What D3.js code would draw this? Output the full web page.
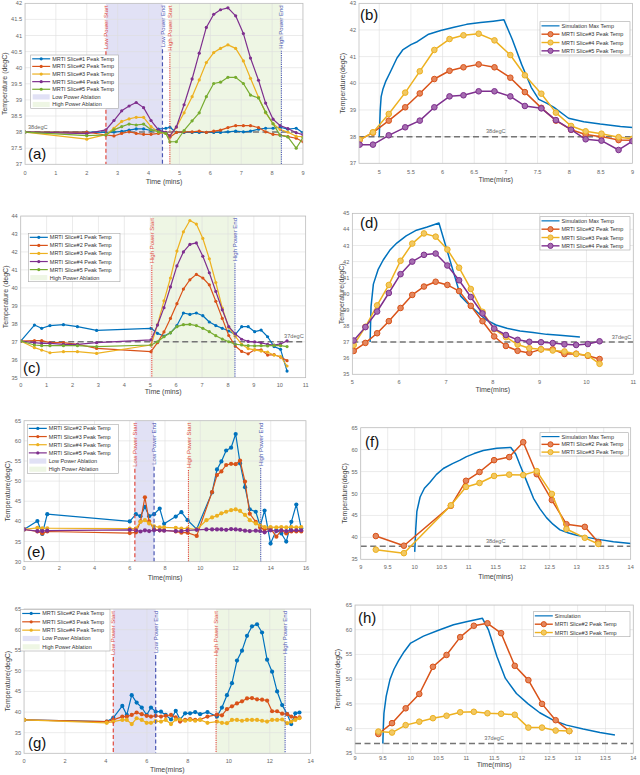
<!DOCTYPE html>
<html>
<head>
<meta charset="utf-8">
<script src="https://cdn.jsdelivr.net/npm/d3@7/dist/d3.min.js"></script>
<style>
  body { margin: 0; background: #fff; }
  svg { display: block; font-family: "Liberation Sans", Arial, sans-serif; }
</style>
</head>
<body>
<svg id="fig" width="640" height="775"></svg>
<script>
// ---- panel (a)/(b): first ablation, slices 1-5 ----
const timeA = [0, 2.0, 2.62, 2.88, 3.13, 3.37, 3.6, 3.84, 4.08, 4.32, 4.56, 4.69, 4.9, 5.15, 5.41, 5.64, 5.87, 6.11, 6.33, 6.57, 6.82, 7.07, 7.3, 7.56, 7.79, 8.03, 8.26, 8.51, 8.78, 9.0];
const sliceA1 = [38.0, 38.0, 37.99, 38.0, 38.02, 38.06, 38.1, 38.1, 38.05, 38.09, 38.12, 38.15, 37.99, 37.99, 37.99, 37.99, 37.99, 37.99, 37.99, 38.01, 38.03, 38.01, 38.03, 38.09, 38.12, 38.12, 38.15, 38.09, 38.12, 37.98];
const sliceA2 = [38.0, 38.0, 37.91, 37.88, 37.96, 38.01, 37.96, 37.93, 37.93, 37.96, 37.99, 37.84, 37.99, 38.01, 38.01, 38.03, 37.99, 38.03, 38.06, 38.14, 38.2, 38.2, 38.2, 38.14, 38.01, 37.93, 37.91, 37.86, 37.81, 37.7];
const sliceA3 = [38.0, 37.78, 37.92, 38.12, 38.33, 38.41, 38.46, 38.46, 38.17, 38.0, 37.96, 37.88, 38.15, 38.6, 39.1, 39.62, 40.16, 40.47, 40.6, 40.71, 40.6, 40.21, 39.67, 39.08, 38.6, 38.26, 38.08, 38.0, 37.87, 37.86];
const sliceA4 = [38.0, 37.95, 38.07, 38.36, 38.66, 38.81, 38.92, 38.76, 38.36, 38.07, 37.99, 37.88, 38.16, 38.85, 39.65, 40.45, 41.25, 41.66, 41.8, 41.86, 41.61, 41.06, 40.3, 39.61, 38.9, 38.4, 38.2, 38.11, 37.98, 37.92];
const sliceA5 = [38.0, 37.89, 37.91, 38.07, 38.17, 38.25, 38.22, 38.25, 38.07, 38.01, 37.96, 37.7, 37.7, 38.05, 38.35, 38.6, 39.1, 39.51, 39.55, 39.7, 39.7, 39.51, 39.15, 39.06, 38.62, 38.26, 37.9, 37.85, 37.5, 37.83];
const simTimeB = [5.0, 5.015, 5.03, 5.06, 5.1, 5.19, 5.28, 5.37, 5.5, 5.6, 5.78, 5.97, 6.18, 6.38, 6.6, 6.8, 6.97, 7.1, 7.25, 7.4, 7.52, 7.65, 7.76, 7.99, 8.23, 8.49, 8.81, 9.0];
const simB = [38.0, 39.0, 39.5, 39.8, 40.06, 40.5, 40.95, 41.25, 41.45, 41.56, 41.84, 41.98, 42.1, 42.21, 42.28, 42.33, 42.38, 41.65, 40.7, 39.85, 39.4, 39.25, 39.1, 38.69, 38.56, 38.47, 38.38, 38.34];

// ---- panel (c)/(d): high power only ----
const timeC = [0, 0.53, 0.81, 1.13, 1.65, 2.19, 2.93, 5.03, 5.28, 5.53, 5.78, 6.03, 6.28, 6.53, 6.78, 7.03, 7.28, 7.53, 7.78, 8.03, 8.28, 8.53, 8.78, 9.03, 9.28, 9.53, 9.78, 10.03, 10.28];
const sliceC1 = [37.04, 37.93, 37.75, 37.9, 37.95, 37.84, 37.63, 37.75, 37.47, 37.32, 37.5, 37.9, 38.6, 38.52, 38.6, 38.45, 38.1, 37.9, 37.75, 37.6, 37.4, 37.84, 37.84, 37.56, 37.65, 37.28, 36.73, 36.58, 35.37];
const sliceC2 = [37.04, 37.06, 37.06, 36.95, 36.95, 36.86, 36.63, 36.45, 36.95, 37.55, 38.3, 39.12, 39.93, 40.45, 40.75, 40.55, 40.17, 39.25, 38.3, 37.35, 36.76, 36.46, 36.33, 36.55, 36.55, 36.26, 36.28, 36.15, 35.95];
const sliceC3 = [37.04, 36.67, 36.54, 36.39, 36.45, 36.45, 36.35, 36.82, 37.95, 39.28, 40.55, 42.05, 43.12, 43.75, 43.55, 42.75, 41.62, 40.3, 38.88, 37.8, 37.31, 36.85, 36.62, 36.55, 36.48, 36.42, 36.26, 36.18, 35.65];
const sliceC4 = [37.04, 36.95, 36.91, 36.91, 36.86, 36.86, 36.95, 37.1, 37.93, 38.9, 40.05, 41.22, 42.0, 42.42, 42.5, 41.76, 40.84, 39.8, 38.78, 37.84, 37.44, 37.14, 37.02, 36.99, 36.94, 36.86, 36.82, 36.88, 37.05];
const sliceC5 = [37.04, 36.82, 36.78, 36.78, 36.78, 36.78, 36.73, 36.82, 37.0, 37.28, 37.5, 37.84, 37.95, 37.97, 37.9, 37.75, 37.56, 37.34, 37.15, 37.0, 36.87, 36.82, 36.78, 36.77, 36.78, 36.77, 36.8, 36.78, 36.73];
const simTimeD = [5.38, 5.4, 5.45, 5.55, 5.66, 5.8, 5.95, 6.15, 6.37, 6.6, 6.85, 7.31, 7.45, 7.58, 7.73, 7.87, 8.07, 8.3, 8.58, 8.86, 9.15, 9.43, 9.86];
const simD = [37.0, 39.2, 40.6, 41.5, 42.1, 42.7, 43.15, 43.6, 43.95, 44.15, 44.4, 39.87, 39.45, 39.1, 38.7, 38.37, 38.06, 37.86, 37.69, 37.59, 37.48, 37.42, 37.32];

// ---- panel (e)/(f): low + high power, slices 2-5 ----
const timeE = [0, 0.76, 1.04, 1.32, 6.0, 6.35, 6.61, 6.86, 7.1, 7.38, 7.7, 7.95, 8.61, 8.93, 9.28, 9.8, 10.67, 10.95, 11.2, 11.47, 11.75, 12.01, 12.26, 12.54, 12.81, 13.15, 13.4, 13.65, 13.99, 14.32, 14.6, 14.88, 15.17, 15.45, 15.73];
const sliceE2 = [38.0, 40.1, 36.9, 41.8, 40.0, 41.8, 41.3, 43.6, 41.3, 41.8, 43.2, 39.4, 41.2, 42.3, 40.3, 38.1, 47.2, 52.9, 54.9, 57.6, 58.3, 61.7, 54.4, 48.5, 43.0, 42.4, 38.9, 42.7, 34.5, 37.9, 37.0, 35.0, 39.9, 44.2, 38.3];
const sliceE3 = [38.0, 37.5, 37.0, 37.5, 37.1, 37.3, 40.0, 46.0, 40.0, 38.0, 37.8, 37.8, 37.5, 37.2, 37.2, 36.4, 47.3, 51.5, 52.4, 54.0, 54.3, 54.2, 55.1, 49.9, 41.9, 39.9, 38.5, 38.0, 38.2, 36.2, 37.8, 37.0, 37.5, 37.5, 37.5];
const timeE2 = [0, 0.76, 1.04, 1.32, 6.0, 6.35, 6.61, 6.86, 7.1, 7.38, 7.7, 7.95, 8.61, 8.93, 9.28, 9.8, 10.35, 10.67, 10.95, 11.2, 11.47, 11.75, 12.01, 12.26, 12.54, 12.81, 13.15, 13.4, 13.65, 13.99, 14.32, 14.6, 14.88, 15.17, 15.45, 15.73];
const sliceE4 = [38.0, 38.4, 38.3, 38.3, 38.2, 38.2, 39.9, 40.3, 39.5, 38.8, 38.5, 38.5, 38.4, 38.2, 38.3, 38.0, 40.3, 41.0, 41.4, 42.0, 42.4, 42.8, 43.0, 42.6, 41.6, 40.3, 39.5, 39.0, 38.6, 38.6, 38.5, 38.6, 38.5, 38.6, 38.5, 38.6];
const sliceE5 = [38.0, 37.6, 37.6, 37.7, 37.9, 37.8, 37.5, 37.8, 37.6, 37.8, 37.8, 37.7, 37.6, 37.6, 37.8, 37.9, 38.0, 38.0, 38.0, 38.0, 37.9, 38.1, 38.0, 37.9, 37.7, 37.6, 37.7, 37.6, 37.3, 37.8, 37.6, 37.8, 37.6, 37.8, 37.8, 37.8];
const simTimeF = [10.0, 10.02, 10.04, 10.1, 10.18, 10.28, 10.4, 10.53, 10.7, 10.84, 10.96, 11.1, 11.27, 11.52, 11.78, 11.87, 11.95, 12.05, 12.2, 12.32, 12.44, 12.56, 12.69, 12.85, 13.0, 13.2, 13.37, 13.68, 14.0];
const simF = [36.7, 42.0, 45.9, 49.2, 51.2, 52.5, 54.3, 55.7, 56.8, 57.6, 58.4, 59.1, 59.8, 60.3, 60.5, 59.0, 56.5, 53.5, 48.9, 46.5, 44.5, 43.0, 41.7, 41.0, 40.5, 40.0, 39.6, 39.0, 38.6];

// ---- panel (g)/(h): low + high power, slices 2-4 ----
const timeG = [0, 4.04, 4.36, 4.8, 5.02, 5.26, 5.5, 5.75, 5.99, 6.2, 6.43, 6.69, 6.92, 7.18, 7.41, 7.62, 7.87, 8.11, 8.36, 8.6, 8.96, 9.42, 9.665, 9.91, 10.155, 10.4, 10.645, 10.89, 11.135, 11.38, 11.625, 11.87, 12.115, 12.36, 12.605, 12.85, 13.05, 13.25, 13.45];
const sliceG2 = [38.1, 37.7, 38.6, 41.5, 39.3, 44.1, 42.3, 41.1, 39.3, 41.1, 40.1, 40.1, 39.3, 38.2, 40.3, 38.2, 39.7, 39.7, 40.0, 39.5, 40.0, 38.9, 41.1, 44.1, 47.0, 52.5, 54.9, 58.5, 60.8, 61.3, 59.3, 52.7, 49.8, 45.0, 41.7, 39.5, 37.1, 39.7, 39.9];
const sliceG3 = [38.1, 37.7, 38.1, 38.9, 38.9, 39.3, 39.9, 39.5, 39.1, 38.9, 39.1, 38.9, 39.1, 39.3, 38.7, 37.7, 38.1, 38.3, 38.1, 38.2, 38.9, 39.4, 39.2, 40.7, 41.4, 42.1, 42.6, 43.3, 43.4, 43.1, 43.0, 42.8, 40.2, 40.2, 39.6, 39.5, 38.9, 38.6, 38.7];
const sliceG4 = [38.1, 37.4, 37.7, 38.1, 38.1, 37.1, 38.5, 38.1, 37.4, 37.4, 37.8, 37.7, 38.1, 37.1, 38.2, 38.2, 37.9, 38.1, 37.9, 38.1, 37.4, 37.7, 37.4, 37.3, 38.1, 38.1, 37.9, 38.1, 38.1, 38.1, 37.9, 37.7, 38.1, 38.1, 38.2, 37.3, 37.7, 38.1, 38.5];
const simTimeH = [9.5, 9.51, 9.52, 9.56, 9.63, 9.7, 9.78, 9.88, 10.0, 10.23, 10.5, 10.77, 11.0, 11.29, 11.4, 11.55, 11.7, 11.9, 12.11, 12.32, 12.56, 12.8, 13.1, 13.4, 13.67];
const simH = [37.0, 40.5, 43.1, 46.5, 50.0, 52.0, 53.7, 55.5, 57.3, 58.7, 59.9, 61.0, 61.6, 62.3, 59.9, 54.6, 50.2, 47.1, 45.0, 43.2, 41.7, 40.7, 39.9, 39.2, 38.7];

// tick labels
const ticksA = d3.range(0, 10, 1), ticksAy = d3.range(37, 42.01, 0.5);
const ticksB = d3.range(5, 9.01, 0.5), ticksBy = d3.range(37, 44, 1);
const ticksC = d3.range(0, 12, 1), ticksCy = d3.range(35, 45, 1);
const ticksD = d3.range(5, 12, 1), ticksDy = d3.range(35, 46, 1);
const ticksE = d3.range(0, 17, 2), ticksEy = d3.range(30, 66, 5);
const ticksF = d3.range(9, 14.01, 0.5), ticksFy = d3.range(35, 66, 5);
const ticksG = d3.range(0, 15, 2), ticksGy = d3.range(30, 66, 5);

const col = { blue: "#0072BD", orange: "#D95319", yellow: "#EDB120", purple: "#7E2F8E", green: "#77AC30" };
const lowFill = "#e1e1f5", highFill = "#eef6e4";
const redLine = "#e0483c", blueLine = "#4b57b4";

const svg = d3.select("#fig");
let clipN = 0;

function panel(p) {
  const [L, T, R, B] = p.box;
  const x = d3.scaleLinear().domain(p.x).range([L, R]);
  const y = d3.scaleLinear().domain(p.y).range([B, T]);
  const g = svg.append("g");
  const id = "clip" + (clipN++);
  g.append("clipPath").attr("id", id).append("rect")
    .attr("x", L).attr("y", T).attr("width", R - L).attr("height", B - T);
  const plot = g.append("g").attr("clip-path", `url(#${id})`);

  // shaded ablation windows
  (p.shades || []).forEach(s => {
    plot.append("rect").attr("x", x(s[0])).attr("y", T)
      .attr("width", x(s[1]) - x(s[0])).attr("height", B - T).attr("fill", s[2]);
  });

  // grid
  const grid = plot.append("g").attr("stroke", "#dedede").attr("stroke-width", 0.6);
  p.xt.forEach(v => grid.append("line").attr("x1", x(v)).attr("x2", x(v)).attr("y1", T).attr("y2", B));
  p.yt.forEach(v => grid.append("line").attr("y1", y(v)).attr("y2", y(v)).attr("x1", L).attr("x2", R));

  // reference temperature line
  if (p.ref) {
    plot.append("line").attr("x1", L).attr("x2", R).attr("y1", y(p.ref.v)).attr("y2", y(p.ref.v))
      .attr("stroke", "#757575").attr("stroke-width", 1.5).attr("stroke-dasharray", "6,3.5");
    const tx = p.ref.align === "start" ? L + 3 : p.ref.align === "end" ? R - 2 : (L + R) / 2;
    g.append("text").attr("x", tx).attr("y", y(p.ref.v) - 3.5).attr("text-anchor", p.ref.align)
      .attr("font-size", 5.6).attr("fill", "#666").text(p.ref.label);
  }

  // series
  p.series.forEach(s => {
    const pts = d3.zip(s.t, s.v);
    const line = d3.line().x(d => x(d[0])).y(d => y(d[1]));
    plot.append("path").datum(pts).attr("d", line).attr("fill", "none")
      .attr("stroke", s.c).attr("stroke-width", s.w || 1.2).attr("stroke-linejoin", "round");
    if (s.m === "dot") {
      plot.selectAll(null).data(pts).join("circle")
        .attr("cx", d => x(d[0])).attr("cy", d => y(d[1])).attr("r", s.r || 1.6).attr("fill", s.c);
    } else if (s.m === "o") {
      plot.selectAll(null).data(pts).join("circle")
        .attr("cx", d => x(d[0])).attr("cy", d => y(d[1])).attr("r", 2.8)
        .attr("fill", d3.interpolateRgb(s.c, "#fff")(0.3)).attr("stroke", s.c).attr("stroke-width", 1);
    }
  });

  // event lines with rotated labels
  (p.vlines || []).forEach(v => {
    const t = g.append("text")
      .attr("transform", `translate(${x(v.t)},${T + 2}) rotate(-90)`)
      .attr("text-anchor", "end").attr("dy", "0.35em")
      .attr("font-size", 6).attr("fill", v.c).text(v.label);
    const len = t.node().getComputedTextLength();
    plot.append("line").attr("x1", x(v.t)).attr("x2", x(v.t))
      .attr("y1", T + len + 4).attr("y2", B)
      .attr("stroke", v.c).attr("stroke-width", v.dash === "dot" ? 1.1 : 1.2)
      .attr("stroke-dasharray", v.dash === "dot" ? "1.2,1" : "4,2.5");
  });

  // frame
  g.append("rect").attr("x", L).attr("y", T).attr("width", R - L).attr("height", B - T)
    .attr("fill", "none").attr("stroke", "#b8b8b8").attr("stroke-width", 0.7);

  // tick labels
  const fmt = d3.format("~g");
  p.xt.forEach(v => g.append("text").attr("x", x(v)).attr("y", B + p.tdy)
    .attr("text-anchor", "middle").attr("font-size", 5.6).attr("fill", "#666").text(fmt(v)));
  p.yt.forEach(v => g.append("text").attr("x", L - 3).attr("y", y(v) + 2)
    .attr("text-anchor", "end").attr("font-size", 5.6).attr("fill", "#666").text(fmt(v)));

  // axis titles
  g.append("text").attr("x", (L + R) / 2).attr("y", B + p.ldy).attr("text-anchor", "middle")
    .attr("font-size", 7).attr("fill", "#444").text(p.xlabel);
  g.append("text").attr("transform", `translate(${p.ylx},${(T + B) / 2}) rotate(-90)`)
    .attr("text-anchor", "middle").attr("dy", "0.35em")
    .attr("font-size", 7).attr("fill", "#444").text(p.ylabel);

  // legend
  const lg = p.legend;
  g.append("rect").attr("x", lg.x).attr("y", lg.y).attr("width", lg.w).attr("height", lg.h)
    .attr("fill", "#fff").attr("stroke", "#a8a8a8").attr("stroke-width", 0.6);
  const rowH = lg.h / lg.items.length;
  lg.items.forEach((it, i) => {
    const cy = lg.y + rowH * (i + 0.5);
    if (it.fill) {
      g.append("rect").attr("x", lg.x + 2).attr("y", cy - 2.6).attr("width", 17).attr("height", 5.2)
        .attr("fill", it.fill);
    } else {
      g.append("line").attr("x1", lg.x + 1.5).attr("x2", lg.x + 19.5).attr("y1", cy).attr("y2", cy)
        .attr("stroke", it.c).attr("stroke-width", it.m === "o" ? 1.4 : 1.2);
      if (it.m === "dot") g.append("circle").attr("cx", lg.x + 10.5).attr("cy", cy).attr("r", 1.6).attr("fill", it.c);
      if (it.m === "o") g.append("circle").attr("cx", lg.x + 10.5).attr("cy", cy).attr("r", 2.6)
        .attr("fill", d3.interpolateRgb(it.c, "#fff")(0.3)).attr("stroke", it.c).attr("stroke-width", 1);
    }
    g.append("text").attr("x", lg.x + 21.5).attr("y", cy + 2).attr("font-size", 5.5)
      .attr("fill", "#333").text(it.label);
  });

  // panel letter
  g.append("text").attr("x", p.letter[1]).attr("y", p.letter[2]).attr("font-size", 15)
    .attr("fill", "#111").text(p.letter[0]);
}

const mrti = n => `MRTI Slice#${n} Peak Temp`;

// (a)
panel({
  box: [25, 3.3, 303, 164.3], x: [0, 9], y: [37, 42], xt: ticksA, yt: ticksAy, tdy: 10.5, ldy: 19.5,
  xlabel: "Time (mins)", ylabel: "Temperature (degC)", ylx: 5, letter: ["(a)", 28, 159],
  shades: [[2.62, 4.45, lowFill], [4.69, 8.3, highFill]],
  ref: { v: 38, label: "38degC", align: "start" },
  series: [
    { t: timeA, v: sliceA1, c: col.blue, m: "dot" },
    { t: timeA, v: sliceA2, c: col.orange, m: "dot" },
    { t: timeA, v: sliceA3, c: col.yellow, m: "dot" },
    { t: timeA, v: sliceA4, c: col.purple, m: "dot" },
    { t: timeA, v: sliceA5, c: col.green, m: "dot" }],
  vlines: [
    { t: 2.62, c: redLine, dash: "dash", label: "Low Power Start" },
    { t: 4.45, c: blueLine, dash: "dash", label: "Low Power End" },
    { t: 4.69, c: redLine, dash: "dot", label: "High Power Start" },
    { t: 8.3, c: blueLine, dash: "dot", label: "High Power End" }],
  legend: { x: 30.7, y: 55, w: 87.6, h: 53.3, items: [
    { label: mrti(1), c: col.blue, m: "dot" }, { label: mrti(2), c: col.orange, m: "dot" },
    { label: mrti(3), c: col.yellow, m: "dot" }, { label: mrti(4), c: col.purple, m: "dot" },
    { label: mrti(5), c: col.green, m: "dot" },
    { label: "Low Power Ablation", fill: lowFill }, { label: "High Power Ablation", fill: highFill }] }
});

// (b)
panel({
  box: [359, 3.3, 632.5, 163.3], x: [4.68, 9], y: [37, 43], xt: ticksB, yt: ticksBy, tdy: 10.5, ldy: 19,
  xlabel: "Time(mins)", ylabel: "Temperature(degC)", ylx: 343, letter: ["(b)", 360, 20],
  ref: { v: 38, label: "38degC", align: "middle" },
  series: [
    { t: simTimeB, v: simB, c: col.blue, w: 1.5 },
    { t: timeA.slice(11), v: sliceA3.slice(11), c: col.orange, m: "o", w: 1.5 },
    { t: timeA.slice(11), v: sliceA4.slice(11), c: col.yellow, m: "o", w: 1.5 },
    { t: timeA.slice(11), v: sliceA5.slice(11), c: col.purple, m: "o", w: 1.5 }],
  legend: { x: 540, y: 21.7, w: 90, h: 33.3, items: [
    { label: "Simulation Max Temp", c: col.blue }, { label: mrti(3), c: col.orange, m: "o" },
    { label: mrti(4), c: col.yellow, m: "o" }, { label: mrti(5), c: col.purple, m: "o" }] }
});

// (c)
panel({
  box: [20.7, 216, 305.7, 377.7], x: [0, 11], y: [35, 44], xt: ticksC, yt: ticksCy, tdy: 9.5, ldy: 16.5,
  xlabel: "Time (mins)", ylabel: "Temperature (degC)", ylx: 6, letter: ["(c)", 23, 373],
  shades: [[5.06, 8.27, highFill]],
  ref: { v: 37, label: "37degC", align: "end" },
  series: [
    { t: timeC, v: sliceC1, c: col.blue, m: "dot" },
    { t: timeC, v: sliceC2, c: col.orange, m: "dot" },
    { t: timeC, v: sliceC3, c: col.yellow, m: "dot" },
    { t: timeC, v: sliceC4, c: col.purple, m: "dot" },
    { t: timeC, v: sliceC5, c: col.green, m: "dot" }],
  vlines: [
    { t: 5.06, c: redLine, dash: "dot", label: "High Power Start" },
    { t: 8.27, c: blueLine, dash: "dot", label: "High Power End" }],
  legend: { x: 28.3, y: 233.3, w: 91.7, h: 48.4, items: [
    { label: mrti(1), c: col.blue, m: "dot" }, { label: mrti(2), c: col.orange, m: "dot" },
    { label: mrti(3), c: col.yellow, m: "dot" }, { label: mrti(4), c: col.purple, m: "dot" },
    { label: mrti(5), c: col.green, m: "dot" }, { label: "High Power Ablation", fill: highFill }] }
});

// (d)
panel({
  box: [352.3, 213.3, 633.3, 374.3], x: [5, 11], y: [35, 45], xt: ticksD, yt: ticksDy, tdy: 9.5, ldy: 18,
  xlabel: "Time(mins)", ylabel: "Temperature(degC)", ylx: 342, letter: ["(d)", 360, 228],
  ref: { v: 37, label: "37degC", align: "end" },
  series: [
    { t: simTimeD, v: simD, c: col.blue, w: 1.5 },
    { t: timeC.slice(7), v: sliceC2.slice(7), c: col.orange, m: "o", w: 1.5 },
    { t: timeC.slice(7), v: sliceC3.slice(7), c: col.yellow, m: "o", w: 1.5 },
    { t: timeC.slice(7), v: sliceC4.slice(7), c: col.purple, m: "o", w: 1.5 }],
  legend: { x: 540, y: 216.7, w: 90, h: 33.3, items: [
    { label: "Simulation Max Temp", c: col.blue }, { label: mrti(2), c: col.orange, m: "o" },
    { label: mrti(3), c: col.yellow, m: "o" }, { label: mrti(4), c: col.purple, m: "o" }] }
});

// (e)
panel({
  box: [24, 420.7, 306, 561.7], x: [0, 16], y: [30, 65], xt: ticksE, yt: ticksEy, tdy: 8.5, ldy: 18,
  xlabel: "Time(mins)", ylabel: "Temperature(degC)", ylx: 8, letter: ["(e)", 27, 557],
  shades: [[6.29, 7.38, lowFill], [9.33, 13.43, highFill]],
  series: [
    { t: timeE, v: sliceE2, c: col.blue, m: "dot", r: 2.1 },
    { t: timeE, v: sliceE3, c: col.orange, m: "dot", r: 2.1 },
    { t: timeE2, v: sliceE4, c: col.yellow, m: "dot", r: 2.1 },
    { t: timeE2, v: sliceE5, c: col.purple, m: "dot", r: 2.1 }],
  vlines: [
    { t: 6.29, c: redLine, dash: "dash", label: "Low Power Start" },
    { t: 7.38, c: blueLine, dash: "dash", label: "Low Power End" },
    { t: 9.33, c: redLine, dash: "dot", label: "High Power Start" },
    { t: 13.43, c: blueLine, dash: "dot", label: "High Power End" }],
  legend: { x: 27.3, y: 424.3, w: 91, h: 49, items: [
    { label: mrti(2), c: col.blue, m: "dot" }, { label: mrti(3), c: col.orange, m: "dot" },
    { label: mrti(4), c: col.yellow, m: "dot" }, { label: mrti(5), c: col.purple, m: "dot" },
    { label: "Low Power Ablation", fill: lowFill }, { label: "High Power Ablation", fill: highFill }] }
});

// (f)
panel({
  box: [360.7, 427.7, 630.7, 559.3], x: [9, 14], y: [35, 65], xt: ticksF, yt: ticksFy, tdy: 10, ldy: 20,
  xlabel: "Time(mins)", ylabel: "Temperature(degC)", ylx: 345, letter: ["(f)", 365, 447],
  ref: { v: 38, label: "38degC", align: "middle" },
  series: [
    { t: simTimeF, v: simF, c: col.blue, w: 1.5 },
    { t: timeE.slice(14, 27), v: sliceE2.slice(14, 27), c: col.orange, m: "o", w: 1.5 },
    { t: timeE.slice(14, 27), v: sliceE3.slice(14, 27), c: col.yellow, m: "o", w: 1.5 }],
  legend: { x: 540, y: 432.7, w: 88.3, h: 23.3, items: [
    { label: "Simulation Max Temp", c: col.blue }, { label: mrti(2), c: col.orange, m: "o" },
    { label: mrti(3), c: col.yellow, m: "o" }] }
});

// (g)
panel({
  box: [24, 609, 310.7, 753.3], x: [0, 14], y: [30, 65], xt: ticksG, yt: ticksGy, tdy: 9.7, ldy: 18.5,
  xlabel: "Time(mins)", ylabel: "Temperature(degC)", ylx: 8, letter: ["(g)", 28, 748],
  shades: [[4.36, 6.43, lowFill], [9.38, 12.75, highFill]],
  series: [
    { t: timeG, v: sliceG2, c: col.blue, m: "dot", r: 2.1 },
    { t: timeG, v: sliceG3, c: col.orange, m: "dot", r: 2.1 },
    { t: timeG, v: sliceG4, c: col.yellow, m: "dot", r: 2.1 }],
  vlines: [
    { t: 4.36, c: redLine, dash: "dash", label: "Low Power Start" },
    { t: 6.43, c: blueLine, dash: "dash", label: "Low Power End" },
    { t: 9.38, c: redLine, dash: "dot", label: "High Power Start" },
    { t: 12.75, c: blueLine, dash: "dot", label: "High Power End" }],
  legend: { x: 20.7, y: 609.3, w: 89.3, h: 41.7, items: [
    { label: mrti(2), c: col.blue, m: "dot" }, { label: mrti(3), c: col.orange, m: "dot" },
    { label: mrti(4), c: col.yellow, m: "dot" },
    { label: "Low Power Ablation", fill: lowFill }, { label: "High Power Ablation", fill: highFill }] }
});

// (h)
panel({
  box: [355, 605, 633.3, 753.3], x: [9, 14], y: [35, 65], xt: ticksF, yt: ticksFy, tdy: 7, ldy: 14,
  xlabel: "Time(mins)", ylabel: "Temperature(degC)", ylx: 338, letter: ["(h)", 358, 623],
  ref: { v: 37, label: "37degC", align: "middle" },
  series: [
    { t: simTimeH, v: simH, c: col.blue, w: 1.5 },
    { t: timeG.slice(21, 36), v: sliceG2.slice(21, 36), c: col.orange, m: "o", w: 1.5 },
    { t: timeG.slice(21, 36), v: sliceG3.slice(21, 36), c: col.yellow, m: "o", w: 1.5 }],
  legend: { x: 533.3, y: 611.7, w: 96.7, h: 25, items: [
    { label: "Simulation", c: col.blue }, { label: mrti(2), c: col.orange, m: "o" },
    { label: mrti(3), c: col.yellow, m: "o" }] }
});
</script>
</body>
</html>
